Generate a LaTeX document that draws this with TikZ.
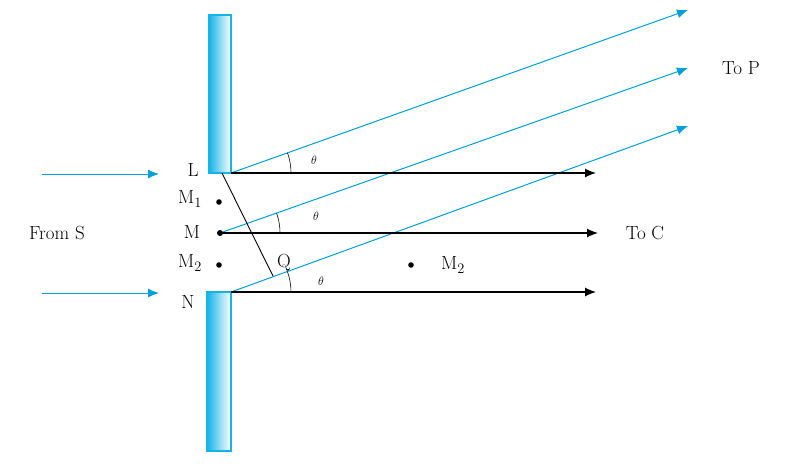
\documentclass[tikz,border=0pt]{standalone}
\usepackage{fontspec}
\usepackage{tikz}
\usetikzlibrary{arrows.meta,calc}
\definecolor{ray}{RGB}{0,160,220}
\definecolor{slab}{RGB}{20,180,230}
\tikzset{blk/.style={black,line width=1.2pt,-{Latex[length=11pt,width=9pt]}},
 blu/.style={ray,line width=1pt,-{Latex[length=11pt,width=9pt]}},
 lab/.style={font=\fontsize{19}{22}\selectfont,inner sep=0pt},
 th/.style={font=\fontsize{13}{15}\selectfont,inner sep=0pt}}
\begin{document}
\begin{tikzpicture}[x=1pt,y=-1pt]
\useasboundingbox (0,0) rectangle (800,472);
\shade[left color=slab,right color=white] (209,15) rectangle (231,173);
\draw[slab,line width=1.2pt] (209,15) rectangle (231,173);
\shade[left color=slab,right color=white] (207,292) rectangle (231,451);
\draw[slab,line width=1.2pt] (207,292) rectangle (231,451);
\coordinate (L) at (231,173); \coordinate (M) at (220,233); \coordinate (N) at (231,292);
\coordinate (Lc) at (222,173); \coordinate (Q) at (273,276);
\coordinate (Pl) at (688,10); \coordinate (Pm) at (688,68); \coordinate (Pn) at (688,126);
\coordinate (Cl) at (596,173); \coordinate (Cm) at (598,233); \coordinate (Cn) at (596,292);
\coordinate (S1) at (42,174); \coordinate (S1e) at (159,174);
\coordinate (S2) at (42,293); \coordinate (S2e) at (159,293);
\draw[blu] (L) -- (Pl); \draw[blu] (M) -- (Pm); \draw[blu] (N) -- (Pn);
\draw[blk] (L) -- (Cl); \draw[blk] (M) -- (Cm); \draw[blk] (N) -- (Cn);
\draw[blu] (S1) -- (S1e); \draw[blu] (S2) -- (S2e);
\draw[line width=0.9pt] (Lc) -- (Q);
\draw[line width=0.6pt] ($(L)+(60,0)$) arc[start angle=0,end angle=-19.6,radius=60];
\draw[line width=0.6pt] ($(M)+(60,0)$) arc[start angle=0,end angle=-19.4,radius=60];
\draw[line width=0.6pt] ($(N)+(60,0)$) arc[start angle=0,end angle=-20,radius=60];
\fill (219,202) circle (2.8); \fill (M) circle (3); \fill (219,265) circle (2.8); \fill (411,265) circle (2.8);
\node[lab] (tL) at (193,170) {L};
\node[lab] (tM1) at (190,199) {M$_1$};
\node[lab] (tM) at (192,232) {M};
\node[lab] (tM2) at (190,263) {M$_2$};
\node[lab] (tN) at (188,302) {N};
\node[lab] (tQ) at (284,263) {Q};
\node[lab] (tM2b) at (453,265) {M$_2$};
\node[lab] (tS) at (57,233) {From S};
\node[lab] (tC) at (645,233) {To C};
\node[lab] (tP) at (741,68) {To P};
\node[th] (t1) at (314,160) {$\theta$};
\node[th] (t2) at (316,216) {$\theta$};
\node[th] (t3) at (321,281) {$\theta$};
\end{tikzpicture}
\end{document}
